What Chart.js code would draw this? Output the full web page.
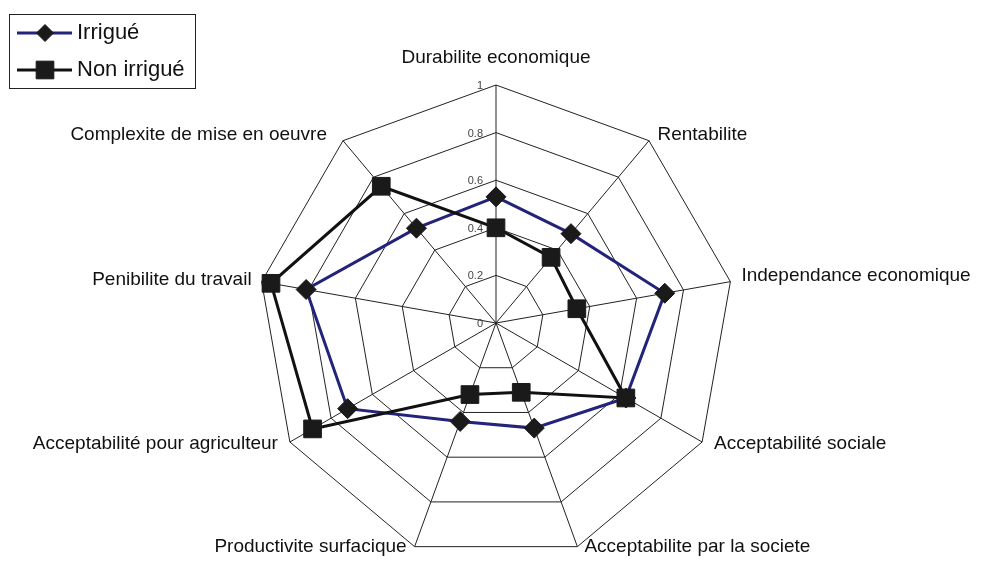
<!DOCTYPE html>
<html>
<head>
<meta charset="utf-8">
<script src="https://cdn.jsdelivr.net/npm/chart.js@4/dist/chart.umd.min.js"></script>
<style>
  html, body { margin: 0; padding: 0; background: #ffffff; }
  #wrap { position: relative; width: 981px; height: 561px; }
</style>
</head>
<body>
<div id="wrap"><canvas id="c"></canvas></div>
<script>
// ---- data ----
const categories = [
  "Durabilite economique",
  "Rentabilite",
  "Independance economique",
  "Acceptabilité sociale",
  "Acceptabilite par la societe",
  "Productivite surfacique",
  "Acceptabilité pour agriculteur",
  "Penibilite du travail",
  "Complexite de mise en oeuvre"
];
const irrigue    = [0.53, 0.49, 0.72, 0.63, 0.47, 0.44, 0.72, 0.81, 0.52];
const nonIrrigue = [0.40, 0.36, 0.345, 0.63, 0.31, 0.32, 0.89, 0.96, 0.75];
const tickValues = [0, 0.2, 0.4, 0.6, 0.8, 1];
const tickLabels = ["0", "0.2", "0.4", "0.6", "0.8", "1"];
const seriesNames = ["Irrigué", "Non irrigué"];

// ---- layout / style constants ----
const FONT = '"Liberation Sans", Arial, sans-serif';
const NAVY = '#23237a';
// per-label placement relative to the outer vertex: [align, dx, dy]
const labelPlacement = [
  ['center', 0, -27.5],
  ['left', 8.5, -6],
  ['left', 11, -6],
  ['left', 12, 2],
  ['left', 7, 0.5],
  ['right', -8, 0.5],
  ['right', -12, 2],
  ['right', -10, -2],
  ['right', -16, -6]
];

const decorPlugin = {
  id: 'decor',
  beforeDraw(chart) {
    const ctx = chart.ctx;
    ctx.save();
    ctx.fillStyle = '#ffffff';
    ctx.fillRect(0, 0, chart.width, chart.height);
    ctx.restore();
  },
  beforeDatasetsDraw(chart) {
    const scale = chart.scales.r;
    const ctx = chart.ctx;
    ctx.save();
    ctx.font = '11px ' + FONT;
    ctx.fillStyle = '#444444';
    ctx.textAlign = 'right';
    ctx.textBaseline = 'middle';
    tickValues.forEach((v, i) => {
      const d = scale.getDistanceFromCenterForValue(v);
      ctx.fillText(tickLabels[i], scale.xCenter - 13, scale.yCenter - d + 1);
    });
    ctx.restore();
  },
  afterDraw(chart) {
    const scale = chart.scales.r;
    const ctx = chart.ctx;
    ctx.save();
    // category labels
    ctx.font = '19px ' + FONT;
    ctx.fillStyle = '#111111';
    ctx.textBaseline = 'middle';
    const outer = scale.getDistanceFromCenterForValue(1);
    categories.forEach((lab, i) => {
      const p = scale.getPointPosition(i, outer);
      const [al, dx, dy] = labelPlacement[i];
      ctx.textAlign = al;
      ctx.fillText(lab, p.x + dx, p.y + dy);
    });
    // legend
    ctx.strokeStyle = '#222222';
    ctx.lineWidth = 1;
    ctx.strokeRect(9.5, 14.5, 186, 74);
    const rows = [
      {y: 33, color: NAVY, style: 'rectRot', r: 8.5},
      {y: 70, color: '#111111', style: 'rect', r: 12.5}
    ];
    rows.forEach((row, i) => {
      ctx.strokeStyle = row.color;
      ctx.lineWidth = 3;
      ctx.beginPath();
      ctx.moveTo(17, row.y);
      ctx.lineTo(72, row.y);
      ctx.stroke();
      ctx.fillStyle = '#1a1a1a';
      ctx.strokeStyle = '#1a1a1a';
      ctx.lineWidth = 1;
      Chart.helpers.drawPoint(ctx, {pointStyle: row.style, radius: row.r, borderWidth: 1, rotation: 0}, 45, row.y);
      ctx.fillStyle = '#111111';
      ctx.font = '22px ' + FONT;
      ctx.textAlign = 'left';
      ctx.textBaseline = 'middle';
      ctx.fillText(seriesNames[i], 77, row.y);
    });
    ctx.restore();
  }
};

new Chart(document.getElementById('c'), {
  type: 'radar',
  data: {
    labels: categories,
    datasets: [
      {
        label: seriesNames[0],
        data: irrigue,
        borderColor: NAVY,
        borderWidth: 3,
        pointStyle: 'rectRot',
        pointRadius: 10,
        pointHoverRadius: 10,
        pointBackgroundColor: '#1a1a1a',
        pointBorderColor: '#1a1a1a',
        pointBorderWidth: 1,
        fill: false,
        tension: 0,
        order: 1,
        clip: false
      },
      {
        label: seriesNames[1],
        data: nonIrrigue,
        borderColor: '#111111',
        borderWidth: 3,
        pointStyle: 'rect',
        pointRadius: 12.5,
        pointHoverRadius: 12.5,
        pointBackgroundColor: '#1a1a1a',
        pointBorderColor: '#1a1a1a',
        pointBorderWidth: 1,
        fill: false,
        tension: 0,
        order: 0,
        clip: false
      }
    ]
  },
  options: {
    responsive: true,
    maintainAspectRatio: false,
    animation: false,
    layout: { padding: { top: 85, bottom: 0, left: 258, right: 246 } },
    plugins: {
      legend: { display: false },
      tooltip: { enabled: false }
    },
    scales: {
      r: {
        min: 0,
        max: 1,
        ticks: { display: false, stepSize: 0.2 },
        grid: { color: '#222222', lineWidth: 1 },
        angleLines: { color: '#222222', lineWidth: 1 },
        pointLabels: { display: false }
      }
    }
  },
  plugins: [decorPlugin]
});
</script>
</body>
</html>
